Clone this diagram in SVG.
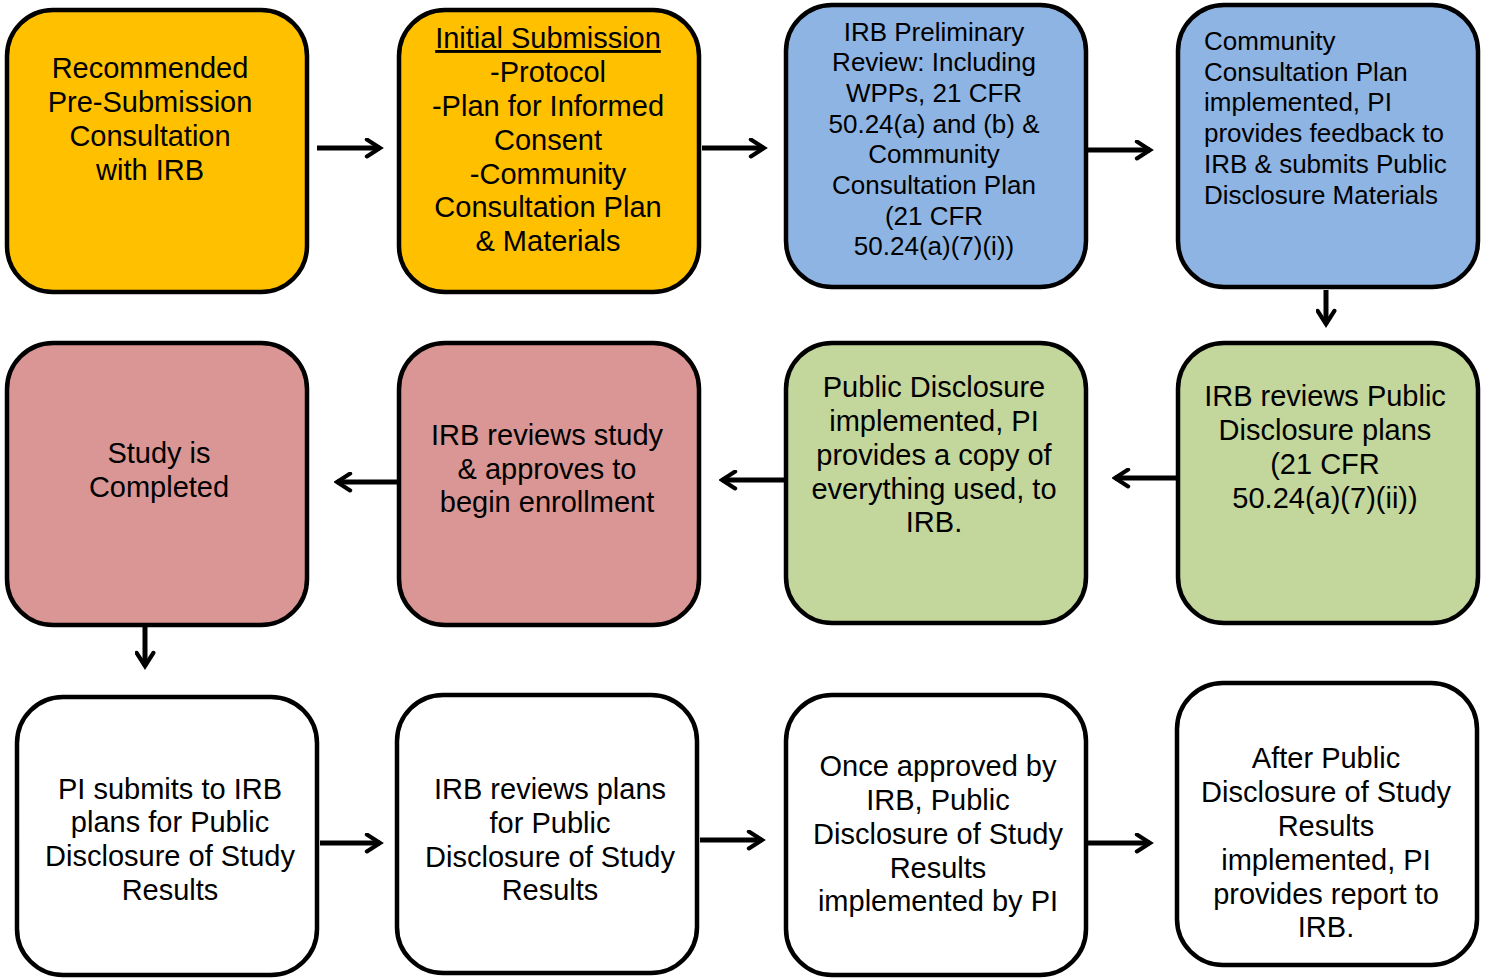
<svg xmlns="http://www.w3.org/2000/svg" width="1486" height="978" viewBox="0 0 1486 978">
<style>
.box{stroke:#000;stroke-width:4.5}
.o{fill:#FFC000}.b{fill:#8EB4E3}.r{fill:#D99694}.g{fill:#C3D69B}.w{fill:#FFFFFF}
text{font-family:"Liberation Sans",Arial,sans-serif;font-size:29px;fill:#000;text-anchor:middle}
.s{font-size:26px}
.l{text-anchor:start}
.c line{stroke:#000;stroke-width:5}
</style>
<defs>
<marker id="ah" viewBox="0 0 12 12" refX="10" refY="6" markerWidth="4.2" markerHeight="4.2" orient="auto" markerUnits="strokeWidth">
<path d="M2.5,1.2 L10,6 L2.5,10.8" fill="none" stroke="#000" stroke-width="2.4" stroke-linecap="round" stroke-linejoin="miter"/>
</marker>
</defs>
<rect width="1486" height="978" fill="#fff"/>
<g id="n1"><rect class="box o" x="7" y="10" width="300" height="282" rx="46"/>
<text x="150" y="78">Recommended</text><text x="150" y="112">Pre-Submission</text><text x="150" y="146">Consultation</text><text x="150" y="180">with IRB</text></g>
<g id="n2"><rect class="box o" x="399" y="10" width="300" height="282" rx="46"/>
<text x="548" y="48" text-decoration="underline">Initial Submission</text><text x="548" y="82">-Protocol</text><text x="548" y="116">-Plan for Informed</text><text x="548" y="150">Consent</text><text x="548" y="184">-Community</text><text x="548" y="217">Consultation Plan</text><text x="548" y="251">&amp; Materials</text></g>
<g id="n3"><rect class="box b" x="786" y="5" width="300" height="282" rx="46"/>
<text class="s" x="934" y="41">IRB Preliminary</text><text class="s" x="934" y="71">Review: Including</text><text class="s" x="934" y="102">WPPs, 21 CFR</text><text class="s" x="934" y="133">50.24(a) and (b) &amp;</text><text class="s" x="934" y="163">Community</text><text class="s" x="934" y="194">Consultation Plan</text><text class="s" x="934" y="225">(21 CFR</text><text class="s" x="934" y="255">50.24(a)(7)(i))</text></g>
<g id="n4"><rect class="box b" x="1178" y="5" width="300" height="282" rx="46"/>
<text class="s l" x="1204" y="50">Community</text><text class="s l" x="1204" y="81">Consultation Plan</text><text class="s l" x="1204" y="111">implemented, PI</text><text class="s l" x="1204" y="142">provides feedback to</text><text class="s l" x="1204" y="173">IRB &amp; submits Public</text><text class="s l" x="1204" y="204">Disclosure Materials</text></g>
<g id="n5"><rect class="box r" x="7" y="343" width="300" height="282" rx="46"/>
<text x="159" y="463">Study is</text><text x="159" y="497">Completed</text></g>
<g id="n6"><rect class="box r" x="399" y="343" width="300" height="282" rx="46"/>
<text x="547" y="445">IRB reviews study</text><text x="547" y="479">&amp; approves to</text><text x="547" y="512">begin enrollment</text></g>
<g id="n7"><rect class="box g" x="786" y="343" width="300" height="280" rx="46"/>
<text x="934" y="397">Public Disclosure</text><text x="934" y="431">implemented, PI</text><text x="934" y="465">provides a copy of</text><text x="934" y="499">everything used, to</text><text x="934" y="532">IRB.</text></g>
<g id="n8"><rect class="box g" x="1178" y="343" width="300" height="280" rx="46"/>
<text x="1325" y="406">IRB reviews Public</text><text x="1325" y="440">Disclosure plans</text><text x="1325" y="474">(21 CFR</text><text x="1325" y="508">50.24(a)(7)(ii))</text></g>
<g id="n9"><rect class="box w" x="17" y="697" width="300" height="278" rx="46"/>
<text x="170" y="799">PI submits to IRB</text><text x="170" y="832">plans for Public</text><text x="170" y="866">Disclosure of Study</text><text x="170" y="900">Results</text></g>
<g id="n10"><rect class="box w" x="397" y="695" width="300" height="278" rx="46"/>
<text x="550" y="799">IRB reviews plans</text><text x="550" y="833">for Public</text><text x="550" y="867">Disclosure of Study</text><text x="550" y="900">Results</text></g>
<g id="n11"><rect class="box w" x="786" y="695" width="300" height="280" rx="46"/>
<text x="938" y="776">Once approved by</text><text x="938" y="810">IRB, Public</text><text x="938" y="844">Disclosure of Study</text><text x="938" y="878">Results</text><text x="938" y="911">implemented by PI</text></g>
<g id="n12"><rect class="box w" x="1177" y="683" width="300" height="282" rx="46"/>
<text x="1326" y="768">After Public</text><text x="1326" y="802">Disclosure of Study</text><text x="1326" y="836">Results</text><text x="1326" y="870">implemented, PI</text><text x="1326" y="904">provides report to</text><text x="1326" y="937">IRB.</text></g>
<g id="connectors" class="c">
<line x1="317" y1="148" x2="380" y2="148" marker-end="url(#ah)"/>
<line x1="702" y1="148" x2="764" y2="148" marker-end="url(#ah)"/>
<line x1="1088" y1="150" x2="1150" y2="150" marker-end="url(#ah)"/>
<line x1="1326" y1="290" x2="1326" y2="324" marker-end="url(#ah)"/>
<line x1="1176" y1="478" x2="1115" y2="478" marker-end="url(#ah)"/>
<line x1="786" y1="480" x2="722" y2="480" marker-end="url(#ah)"/>
<line x1="399" y1="482" x2="337" y2="482" marker-end="url(#ah)"/>
<line x1="145" y1="625" x2="145" y2="666" marker-end="url(#ah)"/>
<line x1="320" y1="843" x2="380" y2="843" marker-end="url(#ah)"/>
<line x1="700" y1="840" x2="762" y2="840" marker-end="url(#ah)"/>
<line x1="1088" y1="843" x2="1150" y2="843" marker-end="url(#ah)"/>
</g>
</svg>
